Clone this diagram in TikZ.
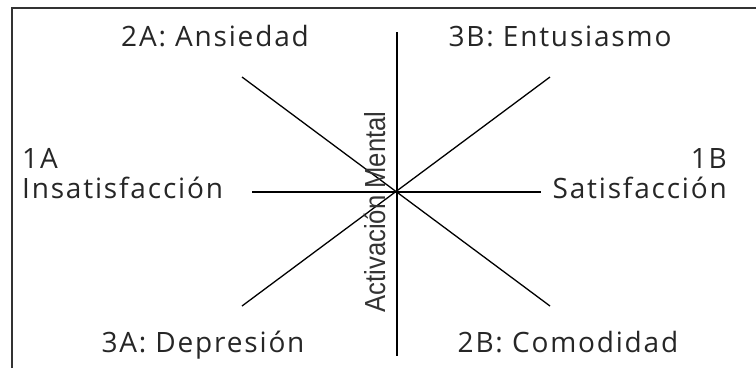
\documentclass[tikz,border=0pt]{standalone}
\usepackage{fontspec}
\setmainfont{Open Sans}[LetterSpace=6.5]
\newfontfamily\rotfont{Liberation Sans}
\begin{document}
\begin{tikzpicture}[x=1pt,y=-1pt,
  lab/.style={inner sep=0pt, font=\fontsize{28}{33}\selectfont, text=black!85},
  axis/.style={line width=1.5pt, black},
  diag/.style={line width=1.3pt, black}]
\useasboundingbox (0,0) rectangle (756,368);
\draw[line width=2pt, black!80] (12,368) -- (12,8) -- (756,8);
% center and ends
\coordinate (c) at (397,192);
\coordinate (top) at (397,32);
\coordinate (bot) at (397,356);
\coordinate (left) at (252,192);
\coordinate (right) at (541,192);
\coordinate (nw) at (242,77);
\coordinate (ne) at (550,77);
\coordinate (sw) at (242,306);
\coordinate (se) at (550,306);
\draw[axis] (top) -- (bot);
\draw[axis] (left) -- (right);
\draw[diag] (nw) -- (se);
\draw[diag] (sw) -- (ne);
% labels
\node[lab, anchor=base] (a2) at (215,46) {2A: Ansiedad};
\node[lab, anchor=base] (b3) at (560,46) {3B: Entusiasmo};
\node[lab, anchor=base west] (a1) at (22,168) {1A};
\node[lab, anchor=base west] (a1t) at (22,198) {Insatisfacción};
\node[lab, anchor=base east] (b1) at (727,168) {1B};
\node[lab, anchor=base east] (b1t) at (727,198) {Satisfacción};
\node[lab, anchor=base] (a3) at (203,352) {3A: Depresión};
\node[lab, anchor=base] (b2) at (568,352) {2B: Comodidad};
\node[inner sep=0pt, rotate=90, anchor=base, text=black!80] (am) at (385,212)
  {\scalebox{0.885}[1]{\rotfont\fontsize{29}{34}\selectfont Activación Mental}};
\end{tikzpicture}
\end{document}
